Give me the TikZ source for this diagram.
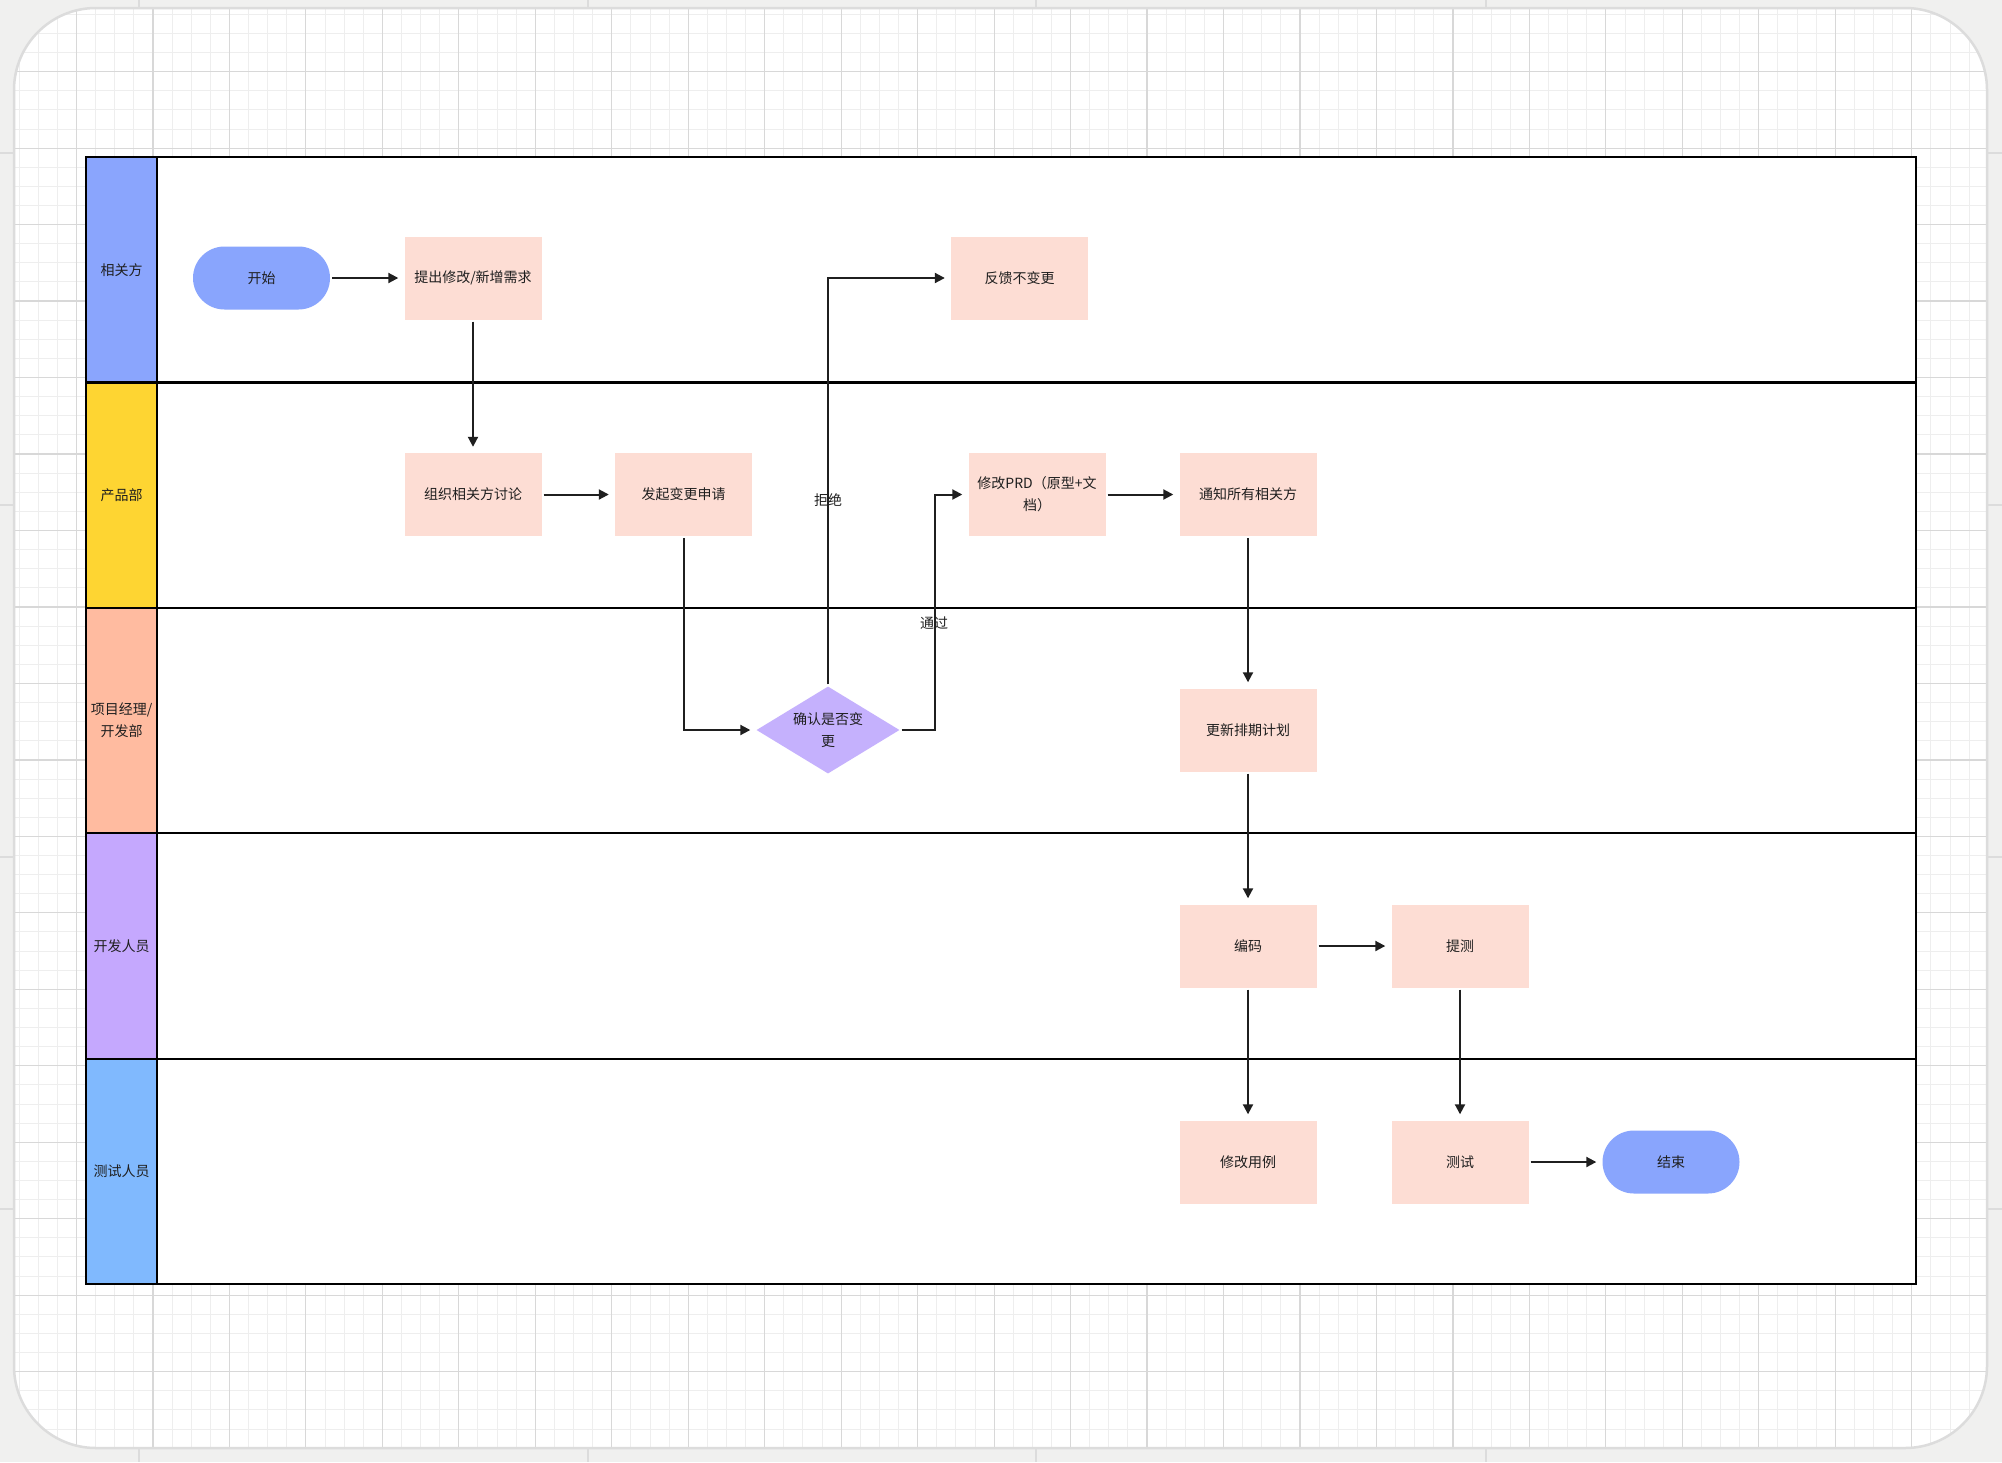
\documentclass[tikz,border=0pt]{standalone}
\usepackage{fontspec}
\setmainfont{Noto Sans CJK SC}
\usetikzlibrary{arrows.meta,shapes.geometric}
\definecolor{outerbg}{HTML}{F0F0EF}
\definecolor{framecol}{HTML}{DCDCDC}
\definecolor{majorgrid}{HTML}{D8D8D8}
\definecolor{minorgrid}{HTML}{EEEEEE}
\definecolor{procfill}{HTML}{FDDDD4}
\definecolor{termfill}{HTML}{89A5FD}
\definecolor{decfill}{HTML}{C5B1FD}
\definecolor{hdrA}{HTML}{8AA5FD}
\definecolor{hdrB}{HTML}{FED532}
\definecolor{hdrC}{HTML}{FFBBA0}
\definecolor{hdrD}{HTML}{C5A8FE}
\definecolor{hdrE}{HTML}{80B9FE}
\definecolor{ink}{HTML}{1F1F1F}
\tikzset{
  txt/.style={font=\fontsize{14}{21.7}\selectfont, text=ink, align=center},
  proc/.style={txt, rectangle, fill=procfill, minimum width=137, minimum height=83, inner sep=0},
  term/.style={txt, rectangle, rounded corners=31.5, fill=termfill, minimum width=137, minimum height=63, inner sep=0},
  dec/.style={txt, diamond, aspect=1.64, fill=decfill, minimum width=143, minimum height=87, inner sep=0},
  hdr/.style={txt, rectangle, draw=black, line width=2.2, minimum width=71, minimum height=225.4, inner sep=0},
  lanes/.style={draw=black, line width=2.2},
  conn/.style={draw=ink, line width=2, -{Triangle[length=10pt,width=10pt]}, shorten <=2, shorten >=6},
  elabel/.style={txt, inner sep=0},
  tick/.style={draw=framecol, line width=2},
}
\begin{document}
\begin{tikzpicture}[x=1pt,y=-1pt]
\useasboundingbox (0,0) rectangle (2002,1462);
\fill[outerbg] (0,0) rectangle (2002,1462);
% outer ticks
\foreach \x in {138.6,587.5,1036,1486} {
  \draw[tick] (\x,0) -- (\x,9);
  \draw[tick] (\x,1447) -- (\x,1462);
}
\foreach \y in {153,505,857,1209} {
  \draw[tick] (0,\y) -- (15,\y);
  \draw[tick] (1986,\y) -- (2002,\y);
}
% grid panel
\begin{scope}
  \clip[rounded corners=82] (14,8) rectangle (1987,1448);
  \fill[white] (0,0) rectangle (2002,1462);
  \foreach \k in {0,...,104} \draw[minorgrid, line width=1] (\k*19.1175,0) -- (\k*19.1175,1462);
  \foreach \k in {0,...,77} \draw[minorgrid, line width=1] (0,-4.8+\k*19.1175) -- (2002,-4.8+\k*19.1175);
  \foreach \k in {0,...,26} \draw[majorgrid, line width=1.2] (\k*76.47,0) -- (\k*76.47,1462);
  \foreach \k in {0,...,19} \draw[majorgrid, line width=1.2] (0,-4.8+\k*76.47) -- (2002,-4.8+\k*76.47);
\end{scope}
\draw[framecol, line width=2.5, rounded corners=82] (14,8) rectangle (1987,1448);

% swimlanes
\fill[white] (86,157) rectangle (1916,1284);
\node[hdr, fill=hdrA] (hA) at (121.5,269.7) {相关方};
\node[hdr, fill=hdrB] (hB) at (121.5,495.1) {产品部};
\node[hdr, fill=hdrC] (hC) at (121.5,720.5) {项目经理/\\开发部};
\node[hdr, fill=hdrD] (hD) at (121.5,945.9) {开发人员};
\node[hdr, fill=hdrE] (hE) at (121.5,1171.3) {测试人员};
\draw[lanes] (86,157) rectangle (1916,1284);
\foreach \y in {382.4,607.8,833.2,1058.6} \draw[lanes] (86,\y) -- (1916,\y);
\draw[lanes] (157,157) -- (157,1284);

% nodes
\node[term] (start) at (261.5,278) {开始};
\node[proc] (req) at (473,278) {提出修改/新增需求};
\node[proc] (disc) at (473,494.5) {组织相关方讨论};
\node[proc] (apply) at (683.5,494.5) {发起变更申请};
\node[dec] (chk) at (828,730) {确认是否变\\更};
\node[proc] (fb) at (1019.5,278) {反馈不变更};
\node[proc] (prd) at (1037,494.5) {修改PRD（原型+文\\档）};
\node[proc] (notify) at (1248,494.5) {通知所有相关方};
\node[proc] (sched) at (1248,730) {更新排期计划};
\node[proc] (code) at (1248,946) {编码};
\node[proc] (sub) at (1460,946) {提测};
\node[proc] (case) at (1248,1162) {修改用例};
\node[proc] (test) at (1460,1162) {测试};
\node[term] (end) at (1671,1162) {结束};

% connectors
\draw[conn] (start) -- (req);
\draw[conn] (req) -- (disc);
\draw[conn] (disc) -- (apply);
\draw[conn] (apply.south) |- (chk.west);
\draw[conn] (chk.north) |- (fb.west);
\draw[conn] (chk.east) -- ++(35,0) |- (prd.west);
\draw[conn] (prd) -- (notify);
\draw[conn] (notify) -- (sched);
\draw[conn] (sched) -- (code);
\draw[conn] (code) -- (sub);
\draw[conn] (code) -- (case);
\draw[conn] (sub) -- (test);
\draw[conn] (test) -- (end);

% connector labels
\node[elabel] (lblRej) at (828,500) {拒绝};
\node[elabel] (lblPass) at (934,623) {通过};
\end{tikzpicture}
\end{document}
